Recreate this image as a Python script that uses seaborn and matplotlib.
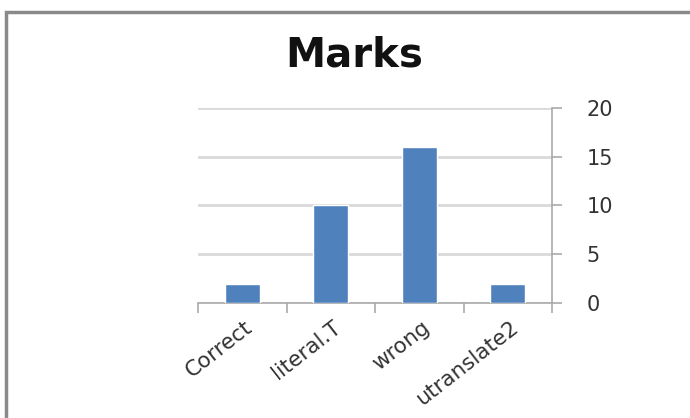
import matplotlib
matplotlib.use("Agg")
import matplotlib.pyplot as plt
from matplotlib.patches import Rectangle
from matplotlib.transforms import ScaledTranslation
import pandas as pd
import seaborn as sns

categories = ["Correct", "literal.T", "wrong", "utranslate2"]
marks = [2, 10, 16, 2]
y_ticks = [0, 5, 10, 15, 20]

df = pd.DataFrame({"category": categories, "marks": marks})

sns.set_style("white")
plt.rcParams["font.family"] = ["DejaVu Sans"]

fig = plt.figure(figsize=(6.9, 4.18), dpi=100)
ax = fig.add_axes([0.287, 0.275, 0.513, 0.467])

sns.barplot(data=df, x="category", y="marks", color="#4f81bd", width=0.4,
            saturation=1, ax=ax, zorder=3)

ax.set_ylim(0, 20)
ax.set_xlim(-0.5, len(categories) - 0.5)
ax.set_yticks(y_ticks)
ax.set_yticklabels([str(v) for v in y_ticks], fontsize=15, color="#333333")
ax.yaxis.tick_right()
ax.yaxis.set_label_position("right")
ax.tick_params(axis="y", length=7, width=1.2, color="#aaaaaa", pad=18, right=True)
ax.grid(axis="y", color="#d9d9d9", linewidth=2, zorder=0)
ax.set_axisbelow(True)

# category boundary ticks along the bottom
ax.set_xticks([i - 0.5 for i in range(len(categories) + 1)], minor=True)
ax.tick_params(axis="x", which="minor", length=7, width=1.2, color="#aaaaaa", bottom=True)
ax.tick_params(axis="x", which="major", length=0, pad=10)
ax.set_xticks(range(len(categories)))
ax.set_xticklabels(categories, rotation=38, ha="right", rotation_mode="anchor",
                   fontsize=15.5, color="#333333")
shift = ScaledTranslation(2 / 100, 0, fig.dpi_scale_trans)
for lbl in ax.get_xticklabels():
    lbl.set_transform(lbl.get_transform() + shift)

ax.set_xlabel("")
ax.set_ylabel("")

for side in ["top", "left"]:
    ax.spines[side].set_visible(False)
for side in ["right", "bottom"]:
    ax.spines[side].set_color("#aaaaaa")
    ax.spines[side].set_linewidth(1.2)

fig.text(0.513, 0.868, "Marks", ha="center", va="center", fontsize=29,
         fontweight="bold", color="#111111")

fig.patches.append(Rectangle((6 / 690, -0.2), 1.2, 1.2 - 12 / 418,
                             transform=fig.transFigure, fill=False,
                             edgecolor="#8a8a8a", linewidth=2.5))

fig.savefig("out.png", dpi=100, facecolor="white")
